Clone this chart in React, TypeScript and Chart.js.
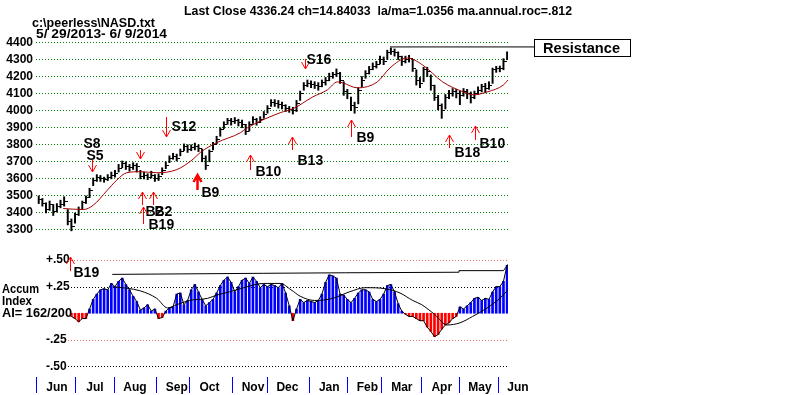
import React, { useEffect, useRef } from "react";
import { Chart, registerables } from "chart.js";

Chart.register(...registerables);

const FONT = "'Liberation Sans', Arial, Helvetica, sans-serif";

const TITLE = "Last Close 4336.24 ch=14.84033  la/ma=1.0356 ma.annual.roc=.812";
const FILE_NAME = "c:\\peerless\\NASD.txt";
const DATE_RANGE = "5/ 29/2013- 6/ 9/2014";
const PANEL_LABELS = ["Accum", "Index", "AI= 162/200"];
const RESISTANCE_LABEL = "Resistance";

// trading-day index of each month start (0 = 5/29/2013, 259 = 6/9/2014)
const MONTH_STARTS = [0, 21, 43, 66, 84, 108, 127, 150, 171, 190, 212, 233, 254];
const MONTH_LABELS = ["Jun", "Jul", "Aug", "Sep", "Oct", "Nov", "Dec", "Jan", "Feb", "Mar", "Apr", "May", "Jun"];
const PRICE_TICKS = [3300, 3400, 3500, 3600, 3700, 3800, 3900, 4000, 4100, 4200, 4300, 4400];
const AI_TICKS = [-0.5, -0.25, 0.25, 0.5];
const AI_TICK_LABELS = ["-.50", "-.25", "+.25", "+.50"];
const AI_GRID = [0.5, 0.25, -0.25, -0.5];

// one bar per two trading days
const HIGH = [3500, 3485, 3460, 3470, 3450, 3455, 3475, 3495, 3420, 3365,
  3400, 3435, 3470, 3500, 3545, 3605, 3625, 3620, 3610, 3625,
  3640, 3650, 3685, 3705, 3700, 3685, 3695, 3690, 3650, 3640,
  3630, 3645, 3625, 3630, 3665, 3700, 3735, 3750, 3745, 3775,
  3805, 3800, 3800, 3810, 3800, 3775, 3735, 3770, 3815, 3850,
  3900, 3935, 3955, 3955, 3960, 3950, 3945, 3920, 3935, 3965,
  3955, 3965, 3995, 4030, 4065, 4065, 4060, 4050, 4035, 4025,
  4020, 4060, 4115, 4165, 4180, 4175, 4170, 4165, 4180, 4195,
  4220, 4225, 4245, 4225, 4170, 4125, 4080, 4050, 4135, 4200,
  4235, 4260, 4280, 4290, 4320, 4315, 4355, 4368, 4362, 4345,
  4320, 4320, 4325, 4300, 4240, 4195, 4255, 4255, 4210, 4150,
  4090, 4040, 4095, 4120, 4130, 4125, 4115, 4130, 4125, 4110,
  4115, 4140, 4155, 4160, 4170, 4250, 4260, 4262, 4305, 4345];
const LOW = [3455, 3440, 3400, 3415, 3385, 3405, 3430, 3440, 3330, 3295,
  3340, 3385, 3420, 3455, 3490, 3560, 3585, 3585, 3580, 3590,
  3600, 3610, 3640, 3665, 3655, 3645, 3655, 3640, 3600, 3600,
  3595, 3605, 3585, 3590, 3625, 3660, 3695, 3715, 3705, 3735,
  3765, 3755, 3765, 3770, 3760, 3700, 3655, 3700, 3770, 3805,
  3850, 3895, 3920, 3915, 3925, 3910, 3900, 3860, 3880, 3925,
  3915, 3930, 3955, 3985, 4025, 4025, 4015, 4010, 3995, 3990,
  3980, 3995, 4060, 4120, 4140, 4135, 4130, 4120, 4140, 4150,
  4175, 4190, 4200, 4160, 4090, 4070, 4000, 3985, 4040, 4140,
  4190, 4215, 4240, 4250, 4275, 4270, 4300, 4330, 4320, 4300,
  4265, 4280, 4285, 4230, 4150, 4135, 4170, 4200, 4120, 4060,
  4005, 3955, 4010, 4070, 4085, 4075, 4035, 4085, 4070, 4045,
  4070, 4095, 4110, 4105, 4125, 4160, 4225, 4228, 4240, 4300];
const CLOSE = [3480, 3455, 3420, 3450, 3410, 3440, 3450, 3470, 3350, 3320,
  3390, 3420, 3460, 3490, 3530, 3590, 3610, 3600, 3595, 3610,
  3620, 3630, 3660, 3690, 3670, 3665, 3680, 3670, 3615, 3620,
  3610, 3620, 3600, 3615, 3650, 3680, 3720, 3730, 3720, 3760,
  3790, 3770, 3785, 3790, 3780, 3720, 3680, 3760, 3800, 3830,
  3890, 3920, 3940, 3935, 3940, 3930, 3920, 3880, 3920, 3950,
  3930, 3950, 3980, 4010, 4050, 4045, 4035, 4030, 4010, 4005,
  4000, 4040, 4100, 4150, 4160, 4155, 4150, 4140, 4165, 4175,
  4200, 4210, 4220, 4180, 4110, 4100, 4030, 4020, 4120, 4180,
  4220, 4240, 4260, 4270, 4300, 4290, 4340, 4350, 4340, 4320,
  4290, 4300, 4305, 4250, 4180, 4160, 4240, 4230, 4150, 4080,
  4030, 4000, 4080, 4100, 4110, 4100, 4090, 4110, 4100, 4080,
  4100, 4120, 4140, 4130, 4150, 4240, 4245, 4245, 4290, 4336];

// Accumulation Index, same sampling as the price bars
const AI = [null, null, null, null, null, null, null, null, null, -0.03,
  -0.05, -0.08, -0.05, -0.05, 0.04, 0.13, 0.18, 0.22, 0.23, 0.22,
  0.28, 0.25, 0.30, 0.33, 0.27, 0.22, 0.16, 0.11, 0.03, 0.05,
  0.08, 0.02, 0.04, -0.05, -0.04, 0.02, 0.05, 0.06, 0.18, 0.19,
  0.08, 0.12, 0.22, 0.27, 0.20, 0.13, 0.07, 0.10, 0.13, 0.19,
  0.26, 0.31, 0.34, 0.29, 0.20, 0.25, 0.31, 0.33, 0.28, 0.34,
  0.30, 0.24, 0.27, 0.25, 0.27, 0.26, 0.24, 0.28, 0.19, 0.07,
  -0.07, 0.04, 0.13, 0.10, 0.12, 0.11, 0.10, 0.12, 0.18, 0.29,
  0.36, 0.35, 0.33, 0.18, 0.17, 0.13, 0.10, 0.14, 0.19, 0.22,
  0.22, 0.20, 0.13, 0.11, 0.13, 0.18, 0.26, 0.27, 0.20, 0.09,
  0.02, -0.01, -0.03, -0.03, -0.05, -0.07, -0.07, -0.13, -0.17, -0.22,
  -0.20, -0.15, -0.11, -0.09, -0.05, -0.03, 0.06, 0.04, 0.07, 0.10,
  0.14, 0.15, 0.12, 0.14, 0.13, 0.20, 0.25, 0.25, 0.30, 0.45];

// 21-day moving average of price: [trading day, value]
const MA = [[14.5, 3426], [25.5, 3420], [31, 3445], [38.5, 3530], [44, 3593], [49.5, 3636],
  [57, 3642], [66, 3636], [77, 3654], [86, 3715], [90, 3755], [99, 3812], [112, 3870],
  [116, 3900], [134, 3988], [141, 4011], [152, 4081], [160, 4122], [165.5, 4169],
  [168.5, 4163], [176.5, 4134], [187.5, 4169], [194.5, 4251], [204, 4309], [212.5, 4268],
  [223.5, 4169], [235, 4110], [240.5, 4093], [248, 4110], [257, 4151], [259.5, 4181]];

// smoothed AI and its running top line: [trading day, value]
const AI_MA = [[42, 0.25], [57, 0.21], [66, 0.14], [72, 0.05], [77, 0.08], [84, 0.12],
  [94, 0.14], [99, 0.17], [106, 0.2], [114, 0.24], [125, 0.28], [134, 0.28], [140, 0.22],
  [145, 0.16], [153, 0.12], [163, 0.14], [172, 0.2], [181, 0.24], [192, 0.23], [200, 0.19],
  [207, 0.12], [212, 0.08], [219, -0.01], [226, -0.11], [233, -0.09], [240, -0.03],
  [248, 0.05], [255, 0.14], [259.5, 0.22]];
const AI_TOP = [[41.5, 0.365], [125, 0.375], [170, 0.38], [232, 0.385], [232.5, 0.4], [257, 0.4], [259.5, 0.46]];

const RESISTANCE = 4374;
const RESISTANCE_FROM = 194.5;
const RESISTANCE_TO = 274.4;

const SIGNALS = [
  { text: ["S8", "S5"], day: 30.5, value: 3640, dir: "down", axis: "y" },
  { text: [], day: 57, value: 3717, dir: "down", axis: "y" },
  { text: ["S12"], day: 71, value: 3846, dir: "down", axis: "y" },
  { text: ["B2"], day: 58, value: 3523, dir: "up", axis: "y" },
  { text: ["B2"], day: 64, value: 3523, dir: "up", axis: "y" },
  { text: ["B19"], day: 58.5, value: 3435, dir: "up", axis: "y" },
  { text: ["B9"], day: 88, value: 3623, dir: "up", axis: "y" },
  { text: ["B10"], day: 117.5, value: 3740, dir: "up", axis: "y" },
  { text: ["B13"], day: 140.5, value: 3846, dir: "up", axis: "y" },
  { text: ["S16"], day: 147.5, value: 4245, dir: "down", axis: "y" },
  { text: ["B9"], day: 173, value: 3945, dir: "up", axis: "y" },
  { text: ["B18"], day: 227, value: 3857, dir: "up", axis: "y" },
  { text: ["B10"], day: 241.5, value: 3910, dir: "up", axis: "y" },
  { text: ["B19"], day: 18, value: 0.528, dir: "up", axis: "y2" },
];
// arrow length, line width and label offsets (px, from the arrow head)
const SIGNAL_LAYOUT = [
  { len: 12, lw: 1, labels: [[-9, -28], [-6, -16]] },
  { len: 9, lw: 1, labels: [] },
  { len: 20, lw: 1, labels: [[5, -10]] },
  { len: 13, lw: 1, labels: [[3, 20]] },
  { len: 13, lw: 1, labels: [[1, 20]] },
  { len: 17, lw: 1, labels: [[5, 18]] },
  { len: 15, lw: 2.5, labels: [[4, 18]] },
  { len: 15, lw: 1, labels: [[5, 17]] },
  { len: 13, lw: 1, labels: [[5, 24]] },
  { len: 10, lw: 1, labels: [[1, -8.5]] },
  { len: 17, lw: 1, labels: [[5, 18]] },
  { len: 13, lw: 1, labels: [[5, 18]] },
  { len: 14, lw: 1, labels: [[4, 18]] },
  { len: 14, lw: 1, labels: [[3, 16]] },
];

const dayOf = (i: number) => 2 * i + 1;

function fitText(ctx: any, text: string, x: number, y: number, width: number, font: string) {
  ctx.font = font;
  const w = ctx.measureText(text).width || 1;
  ctx.save();
  ctx.translate(x, y);
  ctx.scale(width / w, 1);
  ctx.fillText(text, 0, 0);
  ctx.restore();
}

function drawArrow(ctx: any, x: number, yh: number, dir: string, len: number, lw: number) {
  const s = dir === "up" ? 1 : -1;
  ctx.save();
  ctx.strokeStyle = "#ff0000";
  ctx.lineWidth = lw;
  ctx.beginPath();
  ctx.moveTo(x, yh);
  ctx.lineTo(x, yh + s * len);
  ctx.moveTo(x - 4, yh + s * 7);
  ctx.lineTo(x, yh);
  ctx.lineTo(x + 4, yh + s * 7);
  ctx.stroke();
  ctx.restore();
}

const overlayPlugin = {
  id: "overlay",
  beforeDatasetsDraw(chart: any) {
    const { ctx, chartArea } = chart;
    const y2 = chart.scales.y2;
    const colors = ["#e07070", "#000000", "#e07070", "#000000"];
    AI_GRID.forEach((v, k) => {
      const py = Math.round(y2.getPixelForValue(v)) + 0.5;
      ctx.save();
      ctx.strokeStyle = colors[k];
      ctx.lineWidth = 1;
      ctx.setLineDash([1, 2]);
      ctx.beginPath();
      ctx.moveTo(68, py);
      ctx.lineTo(chartArea.right, py);
      ctx.stroke();
      ctx.restore();
    });
  },
  afterDatasetsDraw(chart: any) {
    const { ctx } = chart;
    const xs = chart.scales.x;
    SIGNALS.forEach((s, k) => {
      const lay = SIGNAL_LAYOUT[k];
      const px = Math.round(xs.getPixelForValue(s.day)) + 0.5;
      const py = Math.round(chart.scales[s.axis].getPixelForValue(s.value));
      drawArrow(ctx, px, py, s.dir, lay.len, lay.lw);
      ctx.save();
      ctx.fillStyle = "#000";
      ctx.font = `bold 14px ${FONT}`;
      ctx.textBaseline = "middle";
      ctx.textAlign = "left";
      s.text.forEach((t, j) => {
        const [dx, dy] = lay.labels[j];
        ctx.fillText(t, px + dx, py + dy);
      });
      ctx.restore();
    });
  },
  afterDraw(chart: any) {
    const { ctx } = chart;
    ctx.save();
    ctx.fillStyle = "#000";
    ctx.textAlign = "left";
    ctx.textBaseline = "alphabetic";
    const bold12 = `bold 12px ${FONT}`;
    fitText(ctx, TITLE, 184, 15, 388, bold12);
    fitText(ctx, FILE_NAME, 32, 27, 123, bold12);
    fitText(ctx, DATE_RANGE, 36, 37.5, 131, bold12);
    fitText(ctx, PANEL_LABELS[0], 2, 293, 37, bold12);
    fitText(ctx, PANEL_LABELS[1], 2, 305, 30, bold12);
    fitText(ctx, PANEL_LABELS[2], 2, 317, 70, bold12);
    ctx.strokeStyle = "#000";
    ctx.lineWidth = 1;
    ctx.strokeRect(534.5, 39.5, 96, 17);
    fitText(ctx, RESISTANCE_LABEL, 543, 53, 77, `bold 14px ${FONT}`);
    ctx.restore();
  },
};

export default function App() {
  const ref = useRef<HTMLCanvasElement | null>(null);

  useEffect(() => {
    const canvas = ref.current;
    if (!canvas) return;

    const tick = document.createElement("canvas");
    tick.width = 7;
    tick.height = 1;
    const tctx = tick.getContext("2d");
    if (tctx) {
      tctx.fillStyle = "#000";
      tctx.fillRect(4, 0, 3, 1);
    }

    const font12 = { family: FONT, size: 12, weight: "bold" as const };

    const chart = new Chart(canvas, {
      type: "bar",
      data: {
        datasets: [
          {
            type: "bar",
            label: "price",
            yAxisID: "y",
            data: CLOSE.map((_, i) => ({ x: dayOf(i), y: [LOW[i], HIGH[i]] })),
            backgroundColor: "#000",
            barThickness: 1.3,
            grouped: false,
            order: 6,
          } as any,
          {
            type: "line",
            label: "close",
            yAxisID: "y",
            data: CLOSE.map((c, i) => ({ x: dayOf(i), y: c })),
            showLine: false,
            pointStyle: tick,
            pointRadius: 2,
            order: 5,
          } as any,
          {
            type: "line",
            label: "ma",
            yAxisID: "y",
            data: MA.map(([d, v]) => ({ x: d, y: v })),
            borderColor: "#a00000",
            borderWidth: 1,
            pointRadius: 0,
            cubicInterpolationMode: "monotone",
            order: 3,
          } as any,
          {
            type: "line",
            label: "resistance",
            yAxisID: "y",
            data: [{ x: RESISTANCE_FROM, y: RESISTANCE }, { x: RESISTANCE_TO, y: RESISTANCE }],
            borderColor: "#000",
            borderWidth: 1,
            pointRadius: 0,
            clip: false,
            order: 3,
          } as any,
          {
            type: "bar",
            label: "ai",
            yAxisID: "y2",
            data: AI.map((v, i) => ({ x: dayOf(i), y: v })),
            backgroundColor: (c: any) => (c.raw && c.raw.y < 0 ? "#ff0000" : "#0000ff"),
            barThickness: 2,
            grouped: false,
            skipNull: true,
            order: 6,
          } as any,
          {
            type: "line",
            label: "ai line",
            yAxisID: "y2",
            data: AI.map((v, i) => ({ x: dayOf(i), y: v })),
            borderColor: "#000",
            borderWidth: 1,
            pointRadius: 0,
            order: 2,
          } as any,
          {
            type: "line",
            label: "ai ma",
            yAxisID: "y2",
            data: AI_MA.map(([d, v]) => ({ x: d, y: v })),
            borderColor: "#000",
            borderWidth: 1,
            pointRadius: 0,
            cubicInterpolationMode: "monotone",
            order: 1,
          } as any,
          {
            type: "line",
            label: "ai top",
            yAxisID: "y2",
            data: AI_TOP.map(([d, v]) => ({ x: d, y: v })),
            borderColor: "#000",
            borderWidth: 1,
            pointRadius: 0,
            order: 1,
          } as any,
        ],
      },
      options: {
        responsive: false,
        animation: false,
        devicePixelRatio: 1,
        layout: { padding: { top: 38, right: 292, left: 0, bottom: 0 } },
        plugins: { legend: { display: false }, tooltip: { enabled: false }, title: { display: false } },
        scales: {
          x: {
            type: "linear",
            min: -0.5,
            max: 259.5,
            offset: false,
            afterBuildTicks: (s: any) => {
              s.ticks = MONTH_STARTS.map((v) => ({ value: v }));
            },
            afterFit: (s: any) => {
              s.height = 18;
            },
            grid: {
              display: true,
              drawOnChartArea: false,
              drawTicks: true,
              tickLength: 16,
              tickColor: "#0000ff",
              tickWidth: 1,
              offset: false,
            },
            border: { display: false },
            ticks: {
              autoSkip: false,
              maxRotation: 0,
              minRotation: 0,
              labelOffset: 20,
              padding: -13,
              color: "#000",
              font: font12,
              callback: (_v: any, i: number) => MONTH_LABELS[i],
            },
          } as any,
          y: {
            type: "linear",
            position: "left",
            weight: 10,
            min: 2437.6,
            max: 4426.4,
            afterBuildTicks: (s: any) => {
              s.ticks = PRICE_TICKS.map((v) => ({ value: v }));
            },
            afterFit: (s: any) => {
              s.width = 36;
            },
            grid: { color: "#008000", lineWidth: 1, drawTicks: false },
            border: { display: false, dash: [1, 2] },
            ticks: {
              autoSkip: false,
              padding: 3,
              color: "#000",
              font: font12,
              callback: (v: any) => String(v),
            },
          } as any,
          y2: {
            type: "linear",
            position: "left",
            weight: 0,
            min: -0.5986,
            max: 2.5845,
            afterBuildTicks: (s: any) => {
              s.ticks = AI_TICKS.map((v) => ({ value: v }));
            },
            afterFit: (s: any) => {
              s.width = 0;
            },
            grid: { display: false, drawTicks: false },
            border: { display: false },
            ticks: {
              autoSkip: false,
              mirror: true,
              padding: 10,
              color: "#000",
              font: font12,
              callback: (_v: any, i: number) => AI_TICK_LABELS[i],
            },
          } as any,
        },
      },
      plugins: [overlayPlugin],
    });

    return () => chart.destroy();
  }, []);

  return (
    <div style={{ position: "fixed", left: 0, top: 0, width: 800, height: 395, background: "#fff" }}>
      <canvas ref={ref} width={800} height={395} style={{ display: "block" }} />
    </div>
  );
}
